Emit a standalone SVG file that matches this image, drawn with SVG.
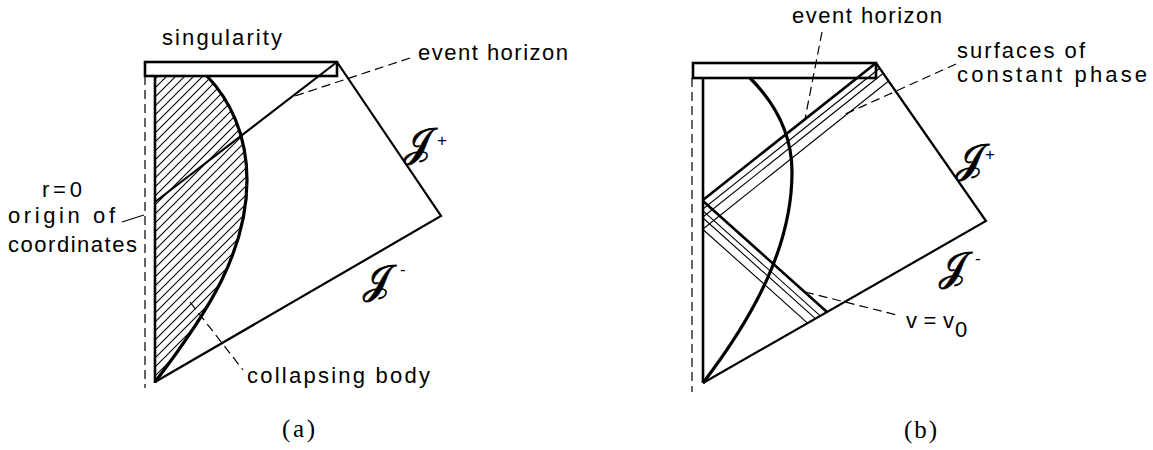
<svg xmlns="http://www.w3.org/2000/svg" width="1153" height="450" viewBox="0 0 1153 450">
<style>
.thick{fill:none;stroke:#000;stroke-width:2.6;stroke-linejoin:miter}
.med{fill:none;stroke:#000;stroke-width:2.2}
.body{fill:none;stroke:#000;stroke-width:3.2}
.thin{fill:none;stroke:#000;stroke-width:1.1}
.dash{fill:none;stroke:#000;stroke-width:1.2;stroke-dasharray:9,5}
.lbl{font-family:"Liberation Sans",Arial,sans-serif;font-size:22px;fill:#000}
.cap{font-family:"Liberation Serif","Times New Roman",serif;font-size:25px;fill:#000}
.scri{font-family:"DejaVu Serif","Noto Sans",serif;font-size:40px;fill:#000;stroke:#000;stroke-width:0.8}
.sup{font-family:"Liberation Sans",Arial,sans-serif;font-size:17px;fill:#000}
</style>
<defs>
<pattern id="hatch" width="9" height="9" patternUnits="userSpaceOnUse">
<path d="M-1,1 L1,-1 M0,9 L9,0 M8,10 L10,8" stroke="#000" stroke-width="1.1"/>
</pattern>
</defs>

<g id="panel-a">
<g id="a-body">
<path d="M155,76 L207,76 C230,100 247,135 247,180 C247,250 210,310 155,382 Z" fill="url(#hatch)" stroke="none"/>
<path class="body" d="M207,76 C230,100 247,135 247,180 C247,250 210,310 155,382"/>
</g>
<g id="a-singularity"><rect class="thick" x="145" y="62" width="192" height="14"/></g>
<g id="a-origin">
<line class="dash" x1="145" y1="76" x2="145" y2="388"/>
<line class="thick" x1="155" y1="76" x2="155" y2="383"/>
</g>
<g id="a-scri">
<polyline class="med" points="337,62 441,216 155,382"/>
</g>
<g id="a-horizon"><line class="med" x1="155" y1="202" x2="337" y2="62"/></g>
<g id="a-labels">
<text class="lbl" x="162" y="45" textLength="120" lengthAdjust="spacing">singularity</text>
<text class="lbl" x="418" y="60" textLength="150" lengthAdjust="spacing">event horizon</text>
<text class="lbl" x="42" y="197" textLength="40" lengthAdjust="spacing">r=0</text>
<text class="lbl" x="8" y="223" textLength="107" lengthAdjust="spacing">origin of</text>
<text class="lbl" x="8" y="252" textLength="129" lengthAdjust="spacing">coordinates</text>
<text class="lbl" x="247" y="383" textLength="183" lengthAdjust="spacing">collapsing body</text>
<text class="scri" x="404" y="156">𝒥</text><text class="sup" x="437" y="146">+</text>
<text class="scri" x="363" y="293">𝒥</text><text class="sup" x="400" y="275">-</text>
<text class="cap" x="282" y="437" textLength="33" lengthAdjust="spacing">(a)</text>
</g>
</g>

<g id="panel-b">
<g id="b-body"><path class="body" d="M750,78 C772,100 792,130 792,172 C792,245 755,315 703,383"/></g>
<g id="b-singularity"><rect class="thick" x="693" y="63" width="183" height="15"/></g>
<g id="b-origin">
<line class="dash" x1="692" y1="78" x2="692" y2="392"/>
<line class="thick" x1="703" y1="78" x2="703" y2="383"/>
</g>
<g id="b-scri"><polyline class="med" points="876,63 986,221 703,383"/></g>
<g id="b-horizon"><line class="thick" x1="703" y1="200" x2="876" y2="63"/></g>
<g id="b-phase">
<line class="thin" x1="703" y1="209" x2="879" y2="68.7"/>
<line class="thin" x1="703" y1="217" x2="882.6" y2="73.8"/>
<line class="thin" x1="703" y1="229" x2="888" y2="81.5"/>
</g>
<g id="b-v0">
<line class="thick" x1="703" y1="201" x2="827" y2="312"/>
<line class="thin" x1="703" y1="210.8" x2="820.3" y2="315.8"/>
<line class="thin" x1="703" y1="218" x2="815.4" y2="318.7"/>
<line class="thin" x1="703" y1="229.5" x2="807.6" y2="323.1"/>
</g>
<g id="b-labels">
<text class="lbl" x="792" y="23" textLength="150" lengthAdjust="spacing">event horizon</text>
<text class="lbl" x="957" y="58" textLength="128" lengthAdjust="spacing">surfaces of</text>
<text class="lbl" x="957" y="82" textLength="190" lengthAdjust="spacing">constant phase</text>
<text class="lbl" x="906" y="328" textLength="48" lengthAdjust="spacing">v = v</text><text class="lbl" x="955" y="337" font-size="20">0</text>
<text class="scri" x="956" y="172">𝒥</text><text class="sup" x="985" y="160">+</text>
<text class="scri" x="939" y="280">𝒥</text><text class="sup" x="975" y="264">-</text>
<text class="cap" x="904" y="438" textLength="33" lengthAdjust="spacing">(b)</text>
</g>
</g>

<g id="connectors">
<line class="dash" x1="410" y1="58" x2="295" y2="96"/>
<line class="thin" x1="122" y1="222" x2="144" y2="215"/>
<line class="dash" x1="190" y1="302" x2="243" y2="370"/>
<line class="dash" x1="822" y1="32" x2="805" y2="119"/>
<line class="dash" x1="956" y1="64" x2="841" y2="116"/>
<line class="dash" x1="805" y1="292" x2="897" y2="315"/>
</g>
</svg>
